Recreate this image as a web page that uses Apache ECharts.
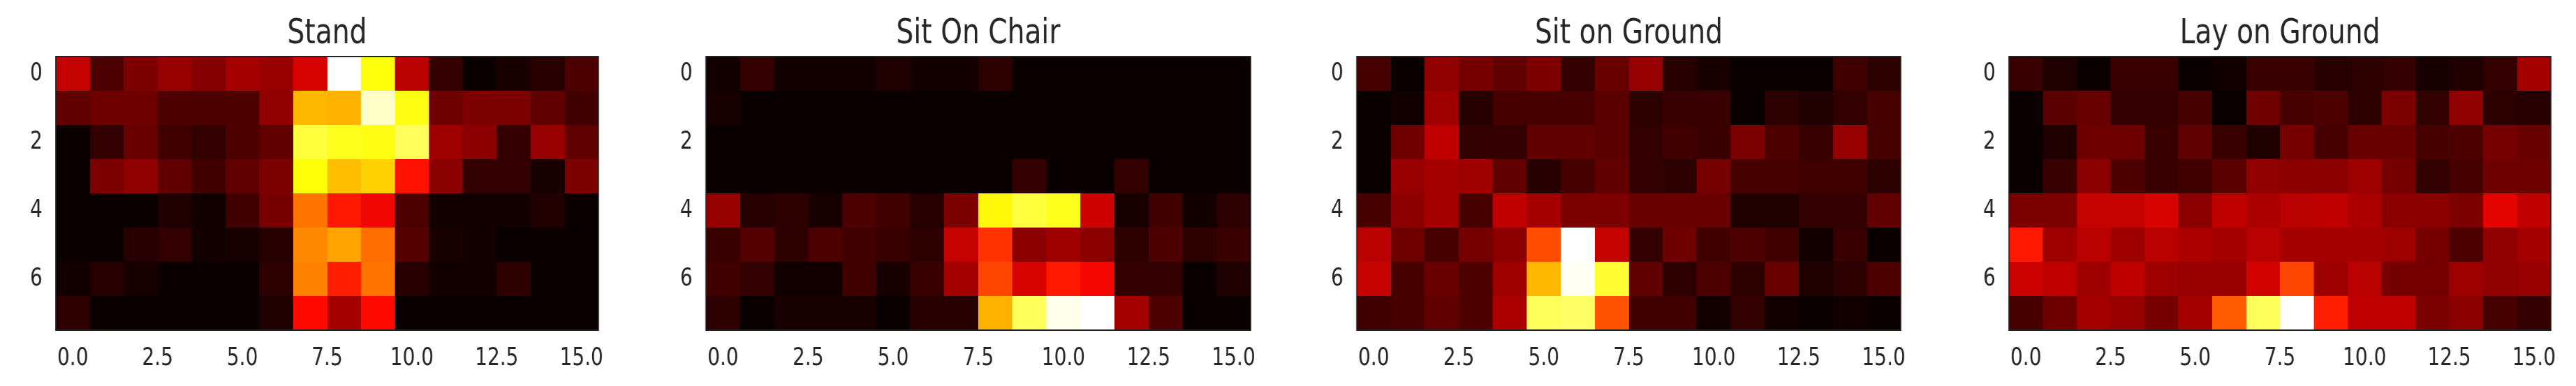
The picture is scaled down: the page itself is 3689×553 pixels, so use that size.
<!DOCTYPE html>
<html>
<head>
<meta charset="utf-8">
<title>Heatmaps</title>
<script src="https://cdn.jsdelivr.net/npm/echarts@6/dist/echarts.min.js"></script>
<style>
html, body { margin: 0; padding: 0; background: #fff; overflow: hidden; }
#main { height: 553px; transform-origin: 0 0; filter: blur(0.7px); }
</style>
</head>
<body>
<div id="main"></div>
<script>
// the reference is squeezed sideways, so the whole chart is drawn wide and scaled back
const squeeze = 0.8

const titles = ['Stand', 'Sit On Chair', 'Sit on Ground', 'Lay on Ground']
const xTicks = [0, 2.5, 5, 7.5, 10, 12.5, 15]
const yTicks = [0, 2, 4, 6]

// cell values, 0-100 on the colormap
const stand = [
  [28,10,17,21,18,23,21,31,100,75,26,6,0,2,4,10],
  [13,15,15,10,10,10,20,64,63,94,76,15,17,17,13,8],
  [0,6,14,8,6,10,13,80,77,76,83,22,19,6,21,13],
  [0,17,20,13,8,13,17,75,65,68,39,19,6,6,2,17],
  [0,0,0,3,1,8,16,54,40,35,10,1,1,1,3,0],
  [0,0,4,6,1,2,4,57,61,53,11,2,1,0,0,0],
  [1,4,2,0,0,0,5,56,41,54,4,1,1,5,0,0],
  [5,0,0,0,0,0,3,38,23,38,0,0,0,0,0,0]
]
const sitChair = [
  [1,6,1,1,1,3,1,1,5,0,0,0,0,0,0,0],
  [2,0,0,0,0,0,0,0,0,0,0,0,0,0,0,0],
  [0,0,0,0,0,0,0,0,0,0,0,0,0,0,0,0],
  [0,0,0,0,0,0,0,0,0,6,0,0,6,0,0,0],
  [21,4,5,2,10,8,4,17,74,80,77,29,2,8,1,5],
  [7,11,5,10,8,7,5,28,44,19,22,19,5,10,5,7],
  [8,6,1,1,8,2,7,23,47,31,40,36,6,6,0,3],
  [5,0,2,2,2,0,4,4,63,83,98,100,23,10,0,0]
]
const sitGround = [
  [9,0,20,16,13,17,6,14,21,4,2,0,0,0,8,5],
  [0,1,22,4,9,9,9,12,5,7,7,0,5,3,6,9],
  [0,15,27,6,6,13,13,12,6,8,7,17,10,7,21,9],
  [0,21,23,22,13,4,9,13,6,5,16,9,9,8,8,5],
  [9,19,23,9,27,23,17,17,14,14,14,3,3,6,6,13],
  [26,15,9,16,19,48,100,28,6,15,8,10,8,1,7,0],
  [28,9,14,10,22,64,99,79,13,5,10,5,14,3,5,10],
  [8,9,13,10,24,83,84,49,8,8,1,6,1,0,1,0]
]
const layGround = [
  [7,3,0,7,7,0,1,7,7,4,5,6,2,3,6,23],
  [0,12,14,6,6,9,0,15,9,10,5,17,6,20,5,4],
  [0,3,15,15,7,13,7,3,16,9,14,14,9,10,16,14],
  [0,7,19,10,7,8,12,20,19,19,22,16,6,9,15,15],
  [17,17,28,28,31,19,27,24,26,27,24,19,19,17,33,27],
  [40,22,26,22,26,24,23,26,23,23,23,22,16,10,20,23],
  [29,27,22,27,22,21,21,30,47,22,26,16,16,22,20,21],
  [9,15,23,21,16,23,50,83,100,41,27,27,17,19,9,6]
]
const panels = [stand, sitChair, sitGround, layGround]

// plot frames in page pixels
const plotLeft = [80, 1011, 1943, 2877]
const plotRight = [857, 1791, 2722, 3653]
const plotTop = 81
const plotBottom = 473

// 'hot' colormap
const hot = ['#0b0000', '#5e0000', '#b20000', '#ff0700', '#ff5a00', '#ffae00', '#ffff0a', '#ffff8a', '#ffffff']

const textColor = '#262626'
const fontFamily = '"DejaVu Sans", sans-serif'

const dom = document.getElementById('main')
dom.style.width = (3689 / squeeze) + 'px'
dom.style.transform = 'scaleX(' + squeeze + ')'
const chart = echarts.init(dom)

function renderCell(params, api) {
  const x = api.value(0)
  const y = api.value(1)
  const a = api.coord([x - 0.5, y - 0.5])
  const b = api.coord([x + 0.5, y + 0.5])
  // snap to whole pixels so no seams show between cells
  const x0 = Math.round(a[0])
  const y0 = Math.round(a[1])
  return {
    type: 'rect',
    shape: { x: x0, y: y0, width: Math.round(b[0]) - x0, height: Math.round(b[1]) - y0 },
    style: { fill: api.visual('color') }
  }
}

const option = {
  animation: false,
  backgroundColor: '#fff',
  title: [],
  grid: [],
  xAxis: [],
  yAxis: [],
  series: [],
  visualMap: {
    show: false,
    min: 0,
    max: 100,
    dimension: 2,
    inRange: { color: hot }
  }
}

panels.forEach((rows, i) => {
  const left = plotLeft[i] / squeeze
  const right = plotRight[i] / squeeze
  option.title.push({
    text: titles[i],
    left: (left + right) / 2 - 5,
    top: 20,
    textAlign: 'center',
    textStyle: { fontFamily, fontSize: 49, fontWeight: 'normal', color: textColor }
  })
  option.grid.push({
    left,
    width: right - left,
    top: plotTop,
    height: plotBottom - plotTop,
    show: true,
    z: 5,
    backgroundColor: 'transparent',
    borderColor: '#222',
    borderWidth: 2
  })
  option.xAxis.push({
    type: 'value',
    gridIndex: i,
    min: -0.5,
    max: 15.5,
    splitLine: { show: false },
    axisLine: { show: false },
    axisTick: { customValues: xTicks, length: 12, lineStyle: { color: '#333', width: 2 } },
    axisLabel: {
      customValues: xTicks,
      formatter: v => v.toFixed(1),
      margin: 23,
      fontFamily,
      fontSize: 35,
      color: textColor
    }
  })
  option.yAxis.push({
    type: 'value',
    gridIndex: i,
    inverse: true,
    min: -0.5,
    max: 7.5,
    splitLine: { show: false },
    axisLine: { show: false },
    axisTick: { customValues: yTicks, length: 16, lineStyle: { color: '#333', width: 2 } },
    axisLabel: {
      customValues: yTicks,
      margin: 24,
      fontFamily,
      fontSize: 35,
      color: textColor
    }
  })
  const data = []
  rows.forEach((row, y) => row.forEach((v, x) => data.push([x, y, v])))
  option.series.push({
    type: 'custom',
    name: titles[i],
    xAxisIndex: i,
    yAxisIndex: i,
    renderItem: renderCell,
    encode: { x: 0, y: 1 },
    data
  })
})

chart.setOption(option)
</script>
</body>
</html>
